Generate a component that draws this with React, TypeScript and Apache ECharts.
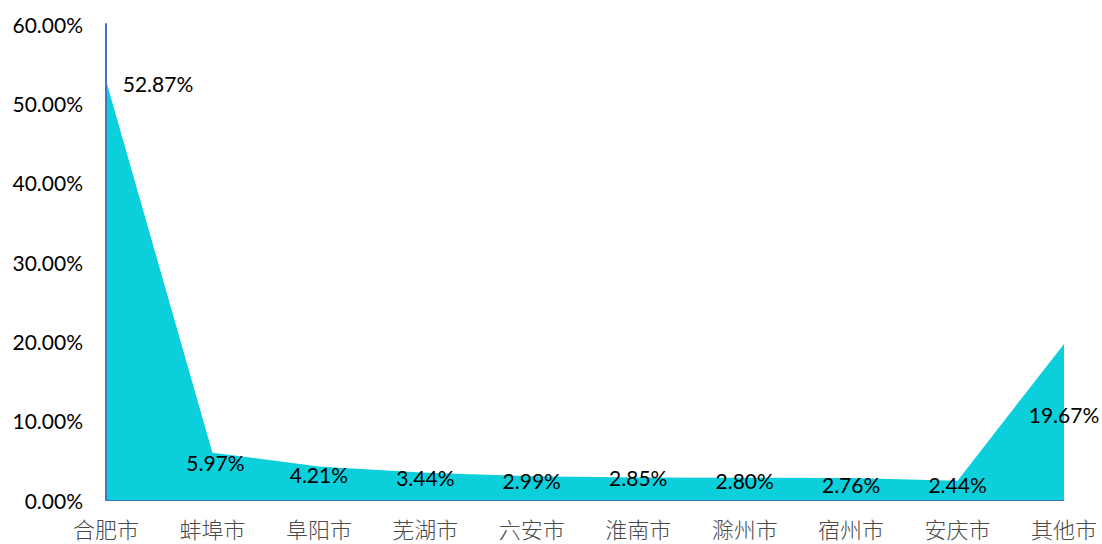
import React, { useEffect, useRef } from "react";
import * as echarts from "echarts";

const categories = ["合肥市", "蚌埠市", "阜阳市", "芜湖市", "六安市", "淮南市", "滁州市", "宿州市", "安庆市", "其他市"];
const values = [52.87, 5.97, 4.21, 3.44, 2.99, 2.85, 2.8, 2.76, 2.44, 19.67];
const labelOffsets: [number, number][] = [
  [52, 3], [3, 10], [0, 8], [0, 5], [0, 4], [0, 0], [0, 3], [0, 6], [0, 4], [0, 71],
];

export default function App() {
  const ref = useRef<HTMLDivElement>(null);
  useEffect(() => {
    if (!ref.current) return;
    const chart = echarts.init(ref.current, undefined, { renderer: "svg" });
    chart.setOption({
      animation: false,
      backgroundColor: "#ffffff",
      grid: { left: 106, right: 38, top: 24, bottom: 44, containLabel: false },
      xAxis: {
        type: "category",
        data: categories,
        boundaryGap: false,
        z: 5,
        axisLine: { show: true, lineStyle: { color: "#4472C4", width: 1 } },
        axisTick: { show: false },
        axisLabel: {
          color: "#4a4a4a",
          fontSize: 22,
          fontWeight: 300,
          fontFamily: "'Noto Sans CJK SC'",
          margin: 17,
          interval: 0,
        },
        splitLine: { show: false },
      },
      yAxis: {
        type: "value",
        min: 0,
        max: 60,
        interval: 10,
        z: 5,
        axisLine: { show: true, lineStyle: { color: "#4472C4", width: 2 } },
        axisTick: { show: false },
        splitLine: { show: false },
        axisLabel: {
          color: "#000000",
          fontSize: 21,
          fontFamily: "Lato, 'Open Sans', sans-serif",
          margin: 23,
          formatter: (v: number) => v.toFixed(2) + "%",
        },
      },
      series: [
        {
          type: "line",
          data: values.map((v, i) => ({
            value: v,
            label: { offset: labelOffsets[i] },
          })),
          symbol: "circle",
          symbolSize: 0,
          showSymbol: true,
          itemStyle: { color: "rgba(0,0,0,0)" },
          lineStyle: { width: 0 },
          areaStyle: { color: "#0BCFDB", opacity: 1 },
          label: {
            show: true,
            position: "inside",
            align: "center",
            verticalAlign: "middle",
            color: "#000000",
            fontSize: 21,
            fontFamily: "Lato, 'Open Sans', sans-serif",
            formatter: (p: any) => Number(p.value).toFixed(2) + "%",
          },
          z: 1,
        },
      ],
    });
    return () => chart.dispose();
  }, []);
  return (
    <div
      ref={ref}
      style={{ position: "fixed", left: 0, top: 0, width: 1102, height: 544 }}
    />
  );
}
